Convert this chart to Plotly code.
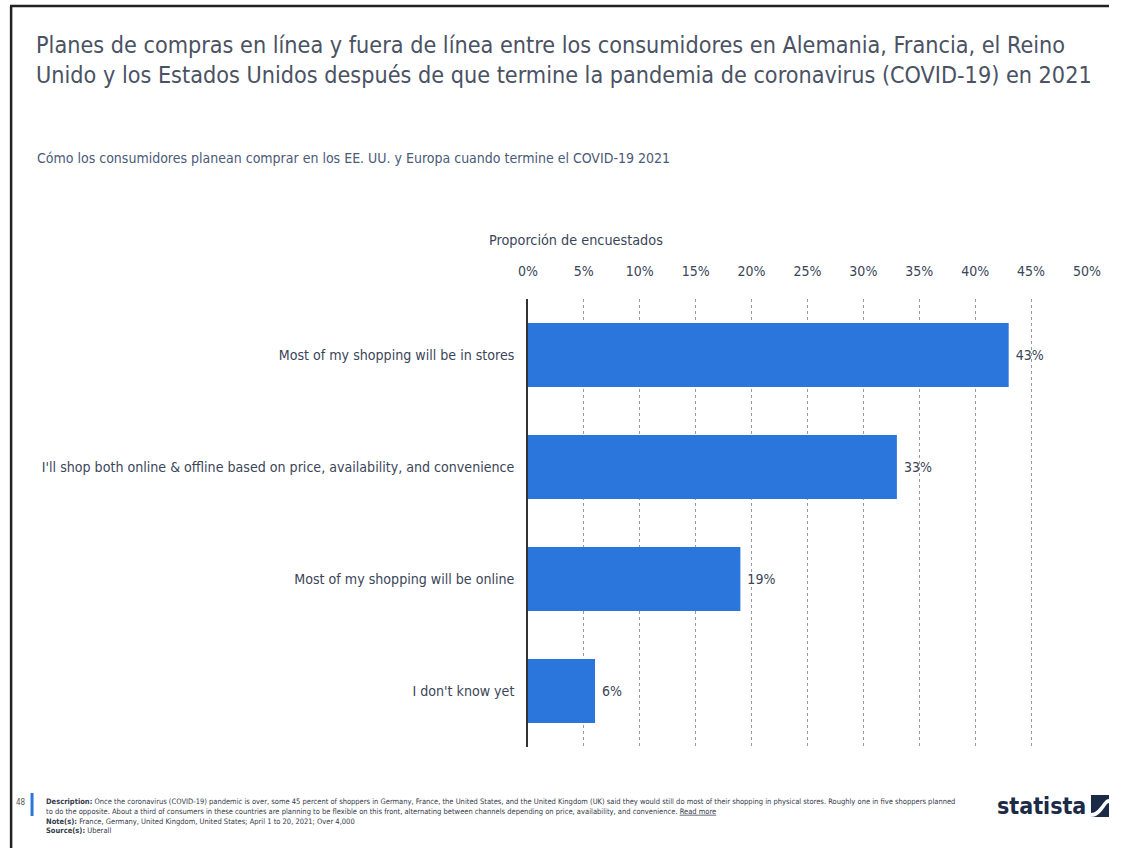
import plotly.graph_objects as go

W, H = 1123, 848

categories = [
    "Most of my shopping will be in stores",
    "I'll shop both online & offline based on price, availability, and convenience",
    "Most of my shopping will be online",
    "I don't know yet",
]
values = [43, 33, 19, 6]
tick_vals = [0, 5, 10, 15, 20, 25, 30, 35, 40, 45, 50]
tick_text = [f"{v}%" for v in tick_vals]

title_text = ("Planes de compras en línea y fuera de línea entre los consumidores en Alemania, Francia, el Reino<br>"
              "Unido y los Estados Unidos después de que termine la pandemia de coronavirus (COVID-19) en 2021")
subtitle_text = "Cómo los consumidores planean comprar en los EE. UU. y Europa cuando termine el COVID-19 2021"
axis_title = "Proporción de encuestados"
desc_text = ("<b>Description:</b> Once the coronavirus (COVID-19) pandemic is over, some 45 percent of shoppers in Germany, France, the United States, and the United Kingdom (UK) said they would still do most of their shopping in physical stores. Roughly one in five shoppers planned<br>"
             "to do the opposite. About a third of consumers in these countries are planning to be flexible on this front, alternating between channels depending on price, availability, and convenience. <u>Read more</u><br>"
             "<b>Note(s):</b> France, Germany, United Kingdom, United States; April 1 to 20, 2021; Over 4,000<br>"
             "<b>Source(s):</b> Uberall")

FONT = "Liberation Sans Narrow, DejaVu Sans Condensed, Open Sans, sans-serif"
TXT = "#3a4558"
BAR = "#2a76dd"

# the rendered paper spans about x = 9 .. 1106 in the screenshot
X0, XW = 9.0, 1097.0

def px(x):
    return max(0.0, min(1.0, (x - X0) / XW))

def py(y):
    return 1 - y / H

fig = go.Figure()
fig.add_trace(go.Bar(
    x=values,
    y=categories,
    orientation="h",
    marker=dict(color=BAR, line=dict(width=0)),
    width=0.57,
    text=[f" {v}%" for v in values],
    textposition="outside",
    textfont=dict(family=FONT, size=14, color=TXT),
    cliponaxis=False,
    hoverinfo="skip",
))

fig.update_layout(
    width=W, height=H,
    margin=dict(l=0, r=0, t=0, b=0),
    paper_bgcolor="white",
    plot_bgcolor="white",
    showlegend=False,
    font=dict(family=FONT, color=TXT),
    xaxis=dict(
        domain=[px(526), px(1084)],
        range=[0, 50],
        side="top",
        tickvals=tick_vals,
        ticktext=tick_text,
        tickfont=dict(family=FONT, size=14, color=TXT),
        ticks="outside", ticklen=16, tickcolor="rgba(0,0,0,0)",
        showgrid=True, gridcolor="#9a9a9a", griddash="dot", gridwidth=1,
        zeroline=False, showline=False, fixedrange=True,
    ),
    yaxis=dict(
        domain=[py(747), py(299)],
        autorange="reversed",
        tickfont=dict(family=FONT, size=14.1, color=TXT),
        ticks="", ticklabelstandoff=9,
        showline=True, linecolor="#333333", linewidth=1.5,
        showgrid=False, zeroline=False, fixedrange=True,
    ),
)

annotations = [
    dict(text=title_text, x=px(33), y=py(29), xanchor="left", yanchor="top",
         font=dict(family=FONT, size=23.2, color="#4a5263"), align="left"),
    dict(text=subtitle_text, x=px(34), y=py(158), xanchor="left", yanchor="middle",
         font=dict(family=FONT, size=14, color="#4a5a78"), align="left"),
    dict(text=axis_title, x=px(485), y=py(240), xanchor="left", yanchor="middle",
         font=dict(family=FONT, size=14.3, color=TXT), align="left"),
    dict(text=desc_text, x=px(43), y=py(795), xanchor="left", yanchor="top",
         font=dict(family=FONT, size=7.5, color="#333a48"), align="left"),
    dict(text="48", x=px(27), y=py(802), xanchor="right", yanchor="middle",
         font=dict(family=FONT, size=8, color="#555555")),
    dict(text="<b>statista</b>", x=px(1085), y=py(806), xanchor="right", yanchor="middle",
         font=dict(family="DejaVu Sans Condensed, DejaVu Sans, sans-serif", size=23, color="#1b2a47")),
]
for a in annotations:
    a.update(xref="paper", yref="paper", showarrow=False)
fig.update_layout(annotations=annotations)

shapes = [
    # page frame
    dict(type="line", x0=0, x1=1, y0=py(6), y1=py(6), line=dict(color="#222222", width=2.5)),
    dict(type="line", x0=0.001, x1=0.001, y0=py(6), y1=0, line=dict(color="#222222", width=2.5)),
    # blue footer marker
    dict(type="line", x0=px(31), x1=px(31), y0=py(793), y1=py(816), line=dict(color="#2a76dd", width=3)),
    # logo square
    dict(type="rect", x0=px(1088), x1=px(1110), y0=py(817), y1=py(795), line=dict(width=0), fillcolor="#1b2a47"),
    dict(type="path",
         path=(f"M {px(1088)},{py(813)} C {px(1097)},{py(813)} {px(1100)},{py(799)} {px(1110)},{py(799)} "
               f"L {px(1110)},{py(803)} C {px(1102)},{py(803)} {px(1099)},{py(817)} {px(1088)},{py(817)} Z"),
         line=dict(width=0), fillcolor="white"),
]
for s in shapes:
    s.update(xref="paper", yref="paper", layer="above")
fig.update_layout(shapes=shapes)

fig.write_html("out.html")
